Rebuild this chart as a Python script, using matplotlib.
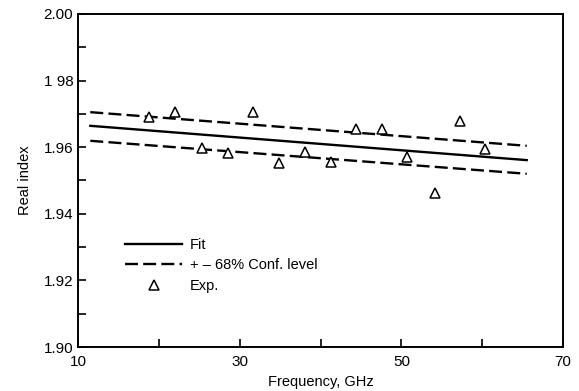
import matplotlib.pyplot as plt
import numpy as np

plt.rcParams['font.family'] = ['Liberation Sans', 'DejaVu Sans']

# Measured real index vs frequency
freq = [18.8, 22.0, 25.3, 28.5, 31.6, 34.8, 38.1, 41.3, 44.4, 47.6, 50.7, 54.1, 57.2, 60.4]
index = [1.9690, 1.9704, 1.9597, 1.9582, 1.9706, 1.9552, 1.9584, 1.9555,
         1.9655, 1.9653, 1.9571, 1.9463, 1.9679, 1.9593]

# Linear fit and 68% confidence band (end points)
fit_freq = [11.5, 65.5]
fit = [1.9664, 1.9561]
upper = [1.9705, 1.9604]
lower = [1.9619, 1.9520]

fig = plt.figure(figsize=(5.79, 3.91), dpi=100)
ax = fig.add_axes([0.135, 0.1125, 0.8375, 0.852])

ax.plot(fit_freq, fit, color='black', lw=1.7, label='Fit')
ax.plot(fit_freq, upper, color='black', lw=1.7, dashes=(5.5, 2.2),
        label='+ \u2013 68% Conf. level')
ax.plot(fit_freq, lower, color='black', lw=1.7, dashes=(5.5, 2.2))
ax.plot(freq, index, linestyle='none', marker='^', markersize=6.5,
        markerfacecolor='white', markeredgecolor='black', markeredgewidth=1.1,
        label='Exp.')

ax.set_xlim(10, 70)
ax.set_ylim(1.90, 2.00)
ax.set_xticks([10, 30, 50, 70])
ax.set_xticks([20, 40, 60], minor=True)
ax.set_yticks(np.arange(1.90, 2.001, 0.02))
ax.set_yticks(np.arange(1.91, 2.0, 0.02), minor=True)
ax.set_yticklabels(['1.90', '1.92', '1.94', '1.96', '1 98', '2.00'])

ax.tick_params(which='both', direction='in', length=6, width=1.2,
               labelsize=11, top=False, right=False)
ax.tick_params(axis='x', pad=6)
for s in ax.spines.values():
    s.set_linewidth(1.4)

ax.set_xlabel('Frequency, GHz', fontsize=10.5, labelpad=4)
ax.set_ylabel('Real index', fontsize=10.5, labelpad=8)

ax.legend(loc='upper left', bbox_to_anchor=(0.085, 0.345), frameon=False,
          fontsize=10.5, handlelength=3.9, handletextpad=0.55,
          labelspacing=0.45, borderaxespad=0)

fig.savefig('out.png', dpi=100)
